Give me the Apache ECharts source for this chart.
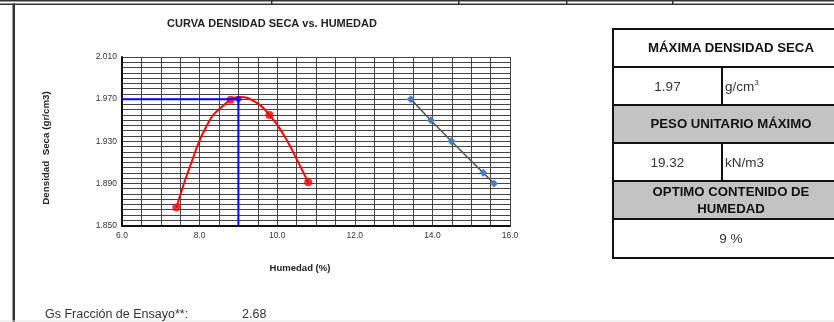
<!DOCTYPE html>
<html>
<head>
<meta charset="utf-8">
<script src="https://cdn.jsdelivr.net/npm/echarts@6/dist/echarts.min.js"></script>
<style>
  html,body{margin:0;padding:0;background:#fff;}
  #wrap{position:relative;width:834px;height:322px;overflow:hidden;font-family:"Liberation Sans",Arial,sans-serif;}
  #chart{position:absolute;left:0;top:0;width:834px;height:322px;}
  .tb{position:absolute;box-sizing:border-box;border:2px solid #111;display:flex;align-items:center;justify-content:center;font-size:13.5px;color:#333;}
  .hd{font-weight:bold;color:#111;text-align:center;line-height:17.5px;font-size:13.2px;}
  .gray{background:#c3c3c3;}
  sup{font-size:8px;vertical-align:6px;line-height:0;}
</style>
</head>
<body>
<div id="wrap">
<div id="chart"></div>
</div>
<script>
// ---- data ----
const chartTitle = 'CURVA DENSIDAD SECA vs. HUMEDAD';
const xAxisName = 'Humedad (%)';
const yAxisName = 'Densidad  Seca (gr/cm3)';
// measured points (compaction test)
const ensayoHumedad = [7.4, 8.8, 9.8, 10.8];
const ensayoDensidad = [1.867, 1.9695, 1.955, 1.891];
// fitted curve
const curvaHumedad = [7.4, 7.8, 8.2, 8.6, 9.03, 9.4, 9.8, 10.2, 10.5, 10.8];
const curvaDensidad = [1.867, 1.911, 1.946, 1.9635, 1.972, 1.968, 1.955, 1.934, 1.913, 1.891];
// optimum
const optimoHumedad = 9.0;
const maxDensidad = 1.97;
// saturation line (right)
const satHumedad = [13.44, 13.96, 14.49, 15.31, 15.59];
const satDensidad = [1.970, 1.950, 1.930, 1.900, 1.890];
// axis
const xMin = 6, xMax = 16, xStep = 2;
const yMin = 1.85, yMax = 2.01, yStep = 0.04;
// table
const tablaTitulos = ['MÁXIMA DENSIDAD SECA', 'PESO UNITARIO MÁXIMO', 'OPTIMO CONTENIDO DE HUMEDAD'];
const tablaValores = ['1.97', '19.32', '9 %'];
const tablaUnidades = ['<span>g/cm<sup>3</sup></span>', '<span>kN/m3</span>'];
const gsEtiqueta = 'Gs Fracción de Ensayo**:';
const gsValor = '2.68';

// ---- table (HTML) ----
const wrap = document.getElementById('wrap');
function cell(l, t, w, h, html, cls) {
  const d = document.createElement('div');
  d.className = 'tb ' + (cls || '');
  d.style.left = l + 'px'; d.style.top = t + 'px';
  d.style.width = w + 'px'; d.style.height = h + 'px';
  d.innerHTML = html;
  wrap.appendChild(d);
  return d;
}
const L = 612, M = 721, R = 850;
const rows = [28, 66, 104, 142, 180, 218, 257];
cell(L, rows[0], R - L, rows[1] - rows[0] + 2, '<div class="hd">' + tablaTitulos[0] + '</div>');
cell(L, rows[1], M - L + 2, rows[2] - rows[1] + 2, tablaValores[0]);
let u1 = cell(M, rows[1], R - M, rows[2] - rows[1] + 2, tablaUnidades[0]);
u1.style.justifyContent = 'flex-start'; u1.style.paddingLeft = '2px';
cell(L, rows[2], R - L, rows[3] - rows[2] + 2, '<div class="hd">' + tablaTitulos[1] + '</div>', 'gray');
cell(L, rows[3], M - L + 2, rows[4] - rows[3] + 2, tablaValores[1]);
let u2 = cell(M, rows[3], R - M, rows[4] - rows[3] + 2, tablaUnidades[1]);
u2.style.justifyContent = 'flex-start'; u2.style.paddingLeft = '2px';
cell(L, rows[4], R - L, rows[5] - rows[4] + 2, '<div class="hd" style="width:190px">' + tablaTitulos[2] + '</div>', 'gray');
cell(L, rows[5], R - L, rows[6] - rows[5] + 2, tablaValores[2]);

// ---- chart ----
const chart = echarts.init(document.getElementById('chart'), null, {renderer: 'canvas'});
const zip = (a, b) => a.map((v, i) => [v, b[i]]);
const gridColor = '#444';
const FF = 'Liberation Sans, Arial, sans-serif';
const option = {
  animation: false,
  textStyle: {fontFamily: FF},
  grid: {left: 122, right: 324, top: 57, bottom: 96.5, containLabel: false},
  xAxis: {
    type: 'value', min: xMin, max: xMax, interval: xStep,
    axisLine: {onZero: false, lineStyle: {color: '#111', width: 2}},
    axisTick: {show: false},
    axisLabel: {fontSize: 8.5, color: '#333', margin: 6, formatter: v => v.toFixed(1)},
    splitLine: {show: true, lineStyle: {color: gridColor, width: 1}},
    minorTick: {show: false, splitNumber: 4},
    minorSplitLine: {show: true, lineStyle: {color: gridColor, width: 1}}
  },
  yAxis: {
    type: 'value', min: yMin, max: yMax, interval: yStep,
    axisLine: {show: true, onZero: false, lineStyle: {color: '#111', width: 2}},
    axisTick: {show: false},
    axisLabel: {fontSize: 8.5, color: '#333', margin: 5, formatter: v => v.toFixed(3)},
    splitLine: {show: true, lineStyle: {color: gridColor, width: 1}},
    minorTick: {show: false, splitNumber: 8},
    minorSplitLine: {show: true, lineStyle: {color: gridColor, width: 1}}
  },
  series: [
    {
      type: 'line', data: zip(curvaHumedad, curvaDensidad), smooth: 0.5,
      showSymbol: false, symbol: 'none',
      lineStyle: {color: '#ff0000', width: 2}, z: 3
    },
    {
      type: 'scatter', data: zip(ensayoHumedad, ensayoDensidad),
      symbol: 'circle', symbolSize: 8, itemStyle: {color: '#ff0000'}, z: 4
    },
    {
      type: 'line', data: [[xMin, maxDensidad], [optimoHumedad, maxDensidad], [optimoHumedad, yMin]],
      showSymbol: false, symbol: 'none',
      lineStyle: {color: '#0000ff', width: 2}, z: 5
    },
    {
      type: 'scatter', data: [[optimoHumedad, maxDensidad]],
      symbol: 'diamond', symbolSize: 8, itemStyle: {color: '#0000ff'}, z: 6
    },
    {
      type: 'line', data: zip(satHumedad, satDensidad),
      symbol: 'diamond', symbolSize: 8, showSymbol: true,
      itemStyle: {color: '#4a7ebb'},
      lineStyle: {color: '#555', width: 1.5}, z: 4
    }
  ],
  graphic: [
    // frame
    {type: 'rect', shape: {x: 0, y: 0, width: 834, height: 1.5}, style: {fill: '#333'}},
    {type: 'rect', shape: {x: 0, y: 3.5, width: 834, height: 1.5}, style: {fill: '#333'}},
    {type: 'rect', shape: {x: 12.5, y: 3.5, width: 2.5, height: 320}, style: {fill: '#333'}},
    {type: 'rect', shape: {x: 271, y: 0, width: 1.5, height: 4}, style: {fill: '#333'}},
    {type: 'rect', shape: {x: 458, y: 0, width: 1.5, height: 4}, style: {fill: '#333'}},
    {type: 'rect', shape: {x: 566, y: 0, width: 1.5, height: 4}, style: {fill: '#333'}},
    {type: 'rect', shape: {x: 672, y: 0, width: 1.5, height: 4}, style: {fill: '#333'}},
    {type: 'rect', shape: {x: 0, y: 320.5, width: 834, height: 1}, style: {fill: '#e4e4e4'}},
    // titles
    {type: 'text', x: 272, y: 24, scaleX: 1.1, style: {text: chartTitle, fontSize: 10, fontWeight: 'bold', fill: '#222', align: 'center', verticalAlign: 'middle', fontFamily: FF}},
    {type: 'text', x: 300, y: 269, scaleX: 1.12, style: {text: xAxisName, fontSize: 8.5, fontWeight: 'bold', fill: '#222', align: 'center', verticalAlign: 'middle', fontFamily: FF}},
    {type: 'text', x: 47, y: 148, rotation: Math.PI / 2, scaleX: 1.15, style: {text: yAxisName, fontSize: 8.5, fontWeight: 'bold', fill: '#222', align: 'center', verticalAlign: 'middle', fontFamily: FF}},
    {type: 'text', x: 45, y: 315, style: {text: gsEtiqueta, fontSize: 12.5, fill: '#333', align: 'left', verticalAlign: 'middle', fontFamily: FF}},
    {type: 'text', x: 242, y: 315, style: {text: gsValor, fontSize: 12.5, fill: '#333', align: 'left', verticalAlign: 'middle', fontFamily: FF}}
  ]
};
chart.setOption(option);
</script>
</body>
</html>
